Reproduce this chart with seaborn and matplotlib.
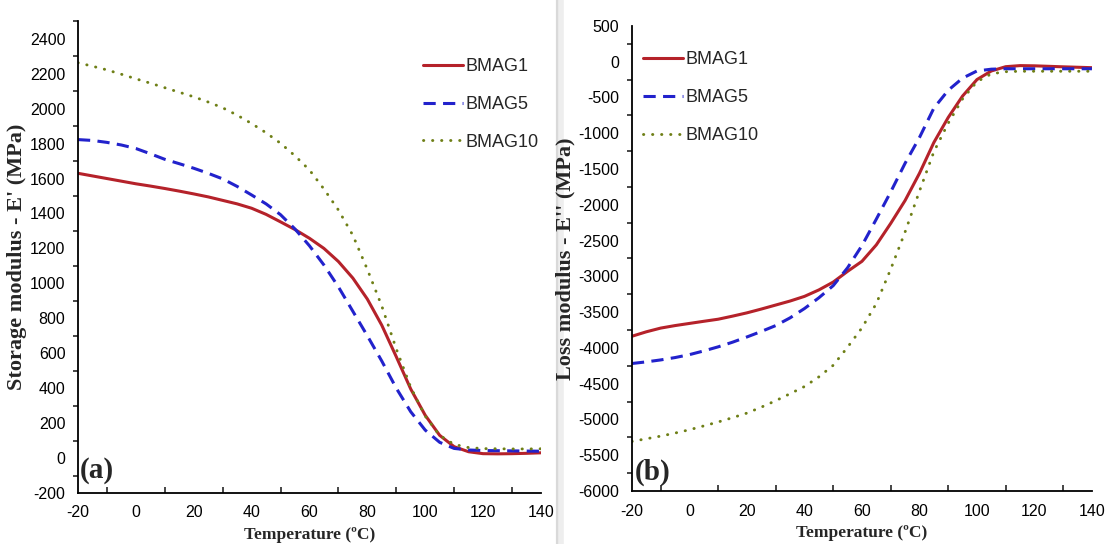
import numpy as np
import pandas as pd
import matplotlib
matplotlib.use("Agg")
import matplotlib.pyplot as plt
from matplotlib.ticker import MultipleLocator
import seaborn as sns

sns.set_theme(style="white")
plt.rcParams['font.family'] = ['Liberation Sans', 'DejaVu Sans']
plt.rcParams['axes.unicode_minus'] = False

temperature = [-20, -15, -10, -5, 0, 5, 10, 15, 20, 25, 30, 35, 40, 45, 50, 55, 60,
               65, 70, 75, 80, 85, 90, 95, 100, 105, 110, 115, 120, 125, 130, 135, 140]

storage_bmag1 = [1630, 1615, 1600, 1585, 1570, 1557, 1543, 1528, 1512, 1495, 1475, 1455, 1430,
                 1395, 1352, 1308, 1258, 1200, 1125, 1030, 910, 760, 580, 395, 245, 130, 65,
                 36, 25, 24, 25, 27, 30]
storage_bmag5 = [1823, 1818, 1807, 1792, 1772, 1742, 1710, 1685, 1659, 1630, 1598, 1555, 1506,
                 1455, 1393, 1311, 1215, 1105, 980, 840, 700, 555, 400, 265, 160, 90, 55,
                 46, 43, 42, 41, 40, 39]
storage_bmag10 = [2263, 2243, 2222, 2197, 2171, 2146, 2120, 2094, 2068, 2038, 2005, 1963, 1915,
                  1862, 1802, 1730, 1649, 1540, 1420, 1275, 1080, 870, 625, 405, 240, 130, 78,
                  60, 54, 53, 52, 52, 53]

loss_bmag1 = [-3837, -3775, -3723, -3688, -3658, -3628, -3599, -3556, -3510, -3457, -3401, -3345,
              -3280, -3190, -3080, -2930, -2790, -2560, -2260, -1940, -1560, -1130, -780, -480,
              -250, -130, -70, -55, -58, -65, -72, -78, -84]
loss_bmag5 = [-4218, -4195, -4168, -4135, -4094, -4042, -3985, -3920, -3847, -3770, -3688, -3580,
              -3450, -3300, -3130, -2880, -2570, -2200, -1820, -1420, -1060, -650, -400, -230,
              -130, -105, -99, -99, -99, -99, -99, -99, -99]
loss_bmag10 = [-5307, -5270, -5233, -5190, -5144, -5090, -5035, -4975, -4911, -4828, -4738, -4640,
               -4540, -4405, -4243, -3990, -3720, -3380, -2900, -2380, -1810, -1260, -860, -520,
               -280, -170, -140, -134, -134, -134, -134, -134, -134]

labels = ["BMAG1", "BMAG5", "BMAG10"]
colors = ["#B5222A", "#2222CC", "#6E7F16"]
styles = ["-", (0, (4.0, 2.4)), (0, (0.1, 3.0))]
caps = ["butt", "butt", "round"]
widths = [2.2, 2.2, 2.1]

fig = plt.figure(figsize=(11.06, 5.44), dpi=100)
ax1 = fig.add_axes([0.0705, 0.0938, 0.4186, 0.867])
ax2 = fig.add_axes([0.5714, 0.0974, 0.4159, 0.855])

# separator between panels (behind the axes)
fig.add_artist(plt.Line2D([0.5045, 0.5045], [0, 1], transform=fig.transFigure,
                          color="#d9d9d9", lw=3, zorder=-5))
fig.add_artist(plt.Line2D([0.5075, 0.5075], [0, 1], transform=fig.transFigure,
                          color="#eeeeee", lw=4, zorder=-5))

def draw(ax, series, ylim, ymajor, yminor, ylabel, panel, leg_anchor, panel_pos):
    for vals, lab, c, ls, lw, cap in zip(series, labels, colors, styles, widths, caps):
        df = pd.DataFrame({"T": temperature, "v": vals})
        sns.lineplot(data=df, x="T", y="v", ax=ax, color=c, linestyle=ls, lw=lw,
                     label=lab, dash_capstyle=cap)
    ax.set_xlim(-20, 140)
    ax.set_ylim(*ylim)
    ax.xaxis.set_major_locator(MultipleLocator(20))
    ax.xaxis.set_minor_locator(MultipleLocator(10))
    ax.yaxis.set_major_locator(MultipleLocator(ymajor))
    ax.yaxis.set_minor_locator(MultipleLocator(yminor))
    for s in ["top", "right"]:
        ax.spines[s].set_visible(False)
    for s in ["left", "bottom"]:
        ax.spines[s].set_color("black")
        ax.spines[s].set_linewidth(1.3)
    ax.tick_params(axis="both", which="major", direction="out", length=6, width=1.2,
                   labelsize=11.5, colors="black", pad=3)
    ax.tick_params(axis="x", which="minor", direction="in", length=4, width=1.2, bottom=True)
    ax.tick_params(axis="y", which="minor", direction="out", length=3.5, width=1.2, left=True)
    ax.set_xlabel("Temperature (ºC)", family="Liberation Serif", fontweight="bold",
                  fontsize=12.5, labelpad=5)
    ax.set_ylabel(ylabel, family="Liberation Serif", fontweight="bold", fontsize=16,
                  labelpad=2)
    ax.grid(False)
    ax.set_facecolor("white")
    ax.legend(loc="upper left", bbox_to_anchor=leg_anchor, frameon=False,
              fontsize=13, handlelength=2.2, handletextpad=0.15,
              labelspacing=1.15, borderpad=0, borderaxespad=0)
    ax.text(panel_pos[0], panel_pos[1], panel, transform=ax.transAxes,
            family="Liberation Serif", fontweight="bold", fontsize=21,
            ha="left", va="bottom")

draw(ax1, [storage_bmag1, storage_bmag5, storage_bmag10], (-200, 2500), 200, 100,
     "Storage modulus - E' (MPa)", "(a)", (0.745, 0.922), (0.004, 0.018))
draw(ax2, [loss_bmag1, loss_bmag5, loss_bmag10], (-6000, 500), 500, 250,
     "Loss modulus - E'' (MPa)", "(b)", (0.024, 0.945), (0.006, 0.010))

fig.savefig("out.png", dpi=100, facecolor="white")
